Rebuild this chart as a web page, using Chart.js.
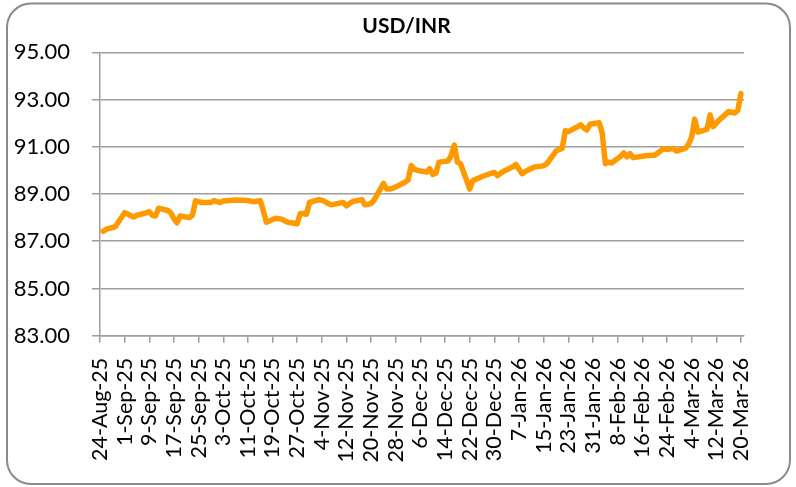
<!DOCTYPE html>
<html>
<head>
<meta charset="utf-8">
<script src="https://cdn.jsdelivr.net/npm/chart.js@4.4.1/dist/chart.umd.min.js"></script>
<style>
  html, body { margin: 0; padding: 0; background: #fff; overflow: hidden; }
  canvas { display: block; }
</style>
</head>
<body>
<canvas id="c" width="796" height="487"></canvas>
<script>
// ---- Data ----
const chartTitle = 'USD/INR';
// Tick labels every 8 calendar days starting 24-Aug-25
const tickLabels = ['24-Aug-25','1-Sep-25','9-Sep-25','17-Sep-25','25-Sep-25','3-Oct-25','11-Oct-25',
  '19-Oct-25','27-Oct-25','4-Nov-25','12-Nov-25','20-Nov-25','28-Nov-25','6-Dec-25','14-Dec-25',
  '22-Dec-25','30-Dec-25','7-Jan-26','15-Jan-26','23-Jan-26','31-Jan-26','8-Feb-26','16-Feb-26',
  '24-Feb-26','4-Mar-26','12-Mar-26','20-Mar-26'];
const yTicks = [83, 85, 87, 89, 91, 93, 95];
// USD/INR closing rates, one row per week (Mon..Fri), first Monday = 25-Aug-25
const weeklyRates = [
  [87.42, 87.50, 87.55, 87.57, 87.62],
  [88.21, 88.15, 88.08, 88.03, 88.10],
  [88.20, 88.25, 88.10, 88.07, 88.40],
  [88.30, 88.20, 87.95, 87.78, 88.07],
  [88.00, 88.10, 88.71, 88.68, 88.64],
  [88.64, 88.72, 88.68, 88.64, 88.70],
  [88.74, 88.75, 88.74, 88.74, 88.74],
  [88.67, 88.70, 88.72, 88.30, 87.80],
  [87.97, 87.95, 87.93, 87.86, 87.80],
  [87.74, 88.17, 88.17, 88.14, 88.64],
  [88.76, 88.74, 88.68, 88.60, 88.54],
  [88.62, 88.64, 88.50, 88.60, 88.68],
  [88.76, 88.54, 88.56, 88.60, 88.75],
  [89.45, 89.21, 89.21, 89.25, 89.30],
  [89.50, 89.60, 90.21, 90.05, 90.00],
  [89.93, 90.07, 89.83, 89.88, 90.35],
  [90.40, 90.64, 91.07, 90.35, 90.28],
  [89.21, 89.57, 89.62, 89.68, 89.74],
  [89.88, 89.91, 89.78, 89.88, 89.96],
  [90.15, 90.25, 90.05, 89.86, 89.95],
  [90.14, 90.16, 90.17, 90.20, 90.28],
  [90.82, 90.88, 90.93, 91.68, 91.64],
  [91.85, 91.93, 91.80, 91.71, 91.95],
  [92.02, 91.57, 90.28, 90.35, 90.31],
  [90.60, 90.74, 90.57, 90.71, 90.54],
  [90.60, 90.62, 90.63, 90.64, 90.64],
  [90.93, 90.88, 90.90, 90.93, 90.82],
  [90.93, 91.10, 91.40, 92.17, 91.62],
  [91.74, 92.35, 91.85, 92.00, 92.14],
  [92.49, 92.46, 92.43, 92.55, 93.25]
];

// Build points: x = calendar day offset from 24-Aug-25 (Mon = 1 + 7*week)
const points = [];
weeklyRates.forEach((week, w) => {
  week.forEach((v, d) => points.push({ x: 1 + 7 * w + d, y: v }));
});

const GRID = '#9e9e9e';
const FONT = 'Lato';

const frame = {
  id: 'frame',
  beforeDraw(chart) {
    const ctx = chart.ctx;
    ctx.save();
    ctx.fillStyle = '#fff';
    ctx.fillRect(0, 0, chart.width, chart.height);
    ctx.beginPath();
    ctx.roundRect(7, 3.5, 783, 480.5, 24);
    ctx.lineWidth = 2;
    ctx.strokeStyle = '#8a8a8a';
    ctx.stroke();
    ctx.restore();
  },
  afterDraw(chart) {
    const ctx = chart.ctx;
    ctx.save();
    ctx.fillStyle = '#000';
    ctx.font = 'bold 21px Lato';
    ctx.textAlign = 'center';
    ctx.textBaseline = 'middle';
    ctx.fillText(chartTitle, 406.5, 26);
    ctx.restore();
  }
};

new Chart(document.getElementById('c'), {
  type: 'line',
  data: {
    datasets: [{
      label: chartTitle,
      data: points,
      borderColor: '#FF9900',
      borderWidth: 5.5,
      pointRadius: 0,
      tension: 0,
      borderJoinStyle: 'round',
      borderCapStyle: 'round',
      fill: false
    }]
  },
  options: {
    responsive: false,
    animation: false,
    devicePixelRatio: 1,
    layout: { padding: { left: 8, right: 52, top: 52.3, bottom: 11.3 } },
    plugins: {
      legend: { display: false },
      tooltip: { enabled: false },
      title: { display: false }
    },
    scales: {
      x: {
        type: 'linear',
        min: 0,
        max: 209,
        afterBuildTicks(scale) {
          scale.ticks = tickLabels.map((_, i) => ({ value: i * 8 }));
        },
        afterFit(scale) { scale.height = 140; },
        ticks: {
          autoSkip: false,
          maxRotation: 90,
          minRotation: 90,
          padding: 15,
          color: '#000',
          font: { family: FONT, size: 21.5 },
          callback: (v) => tickLabels[Math.round(v / 8)]
        },
        grid: { display: true, drawOnChartArea: false, drawTicks: true, tickLength: 7, color: GRID, lineWidth: 1.5 },
        border: { display: true, color: GRID, width: 1.5 }
      },
      y: {
        min: 83,
        max: 95,
        afterBuildTicks(scale) {
          scale.ticks = yTicks.map(v => ({ value: v }));
        },
        afterFit(scale) { scale.width = 92; },
        ticks: {
          padding: 22,
          color: '#000',
          font: { family: FONT, size: 22 },
          callback: (v) => Number(v).toFixed(2)
        },
        grid: { color: GRID, lineWidth: 1.5, drawTicks: true, tickLength: 8 },
        border: { display: true, color: GRID, width: 1.5 }
      }
    }
  },
  plugins: [frame]
});
</script>
</body>
</html>
